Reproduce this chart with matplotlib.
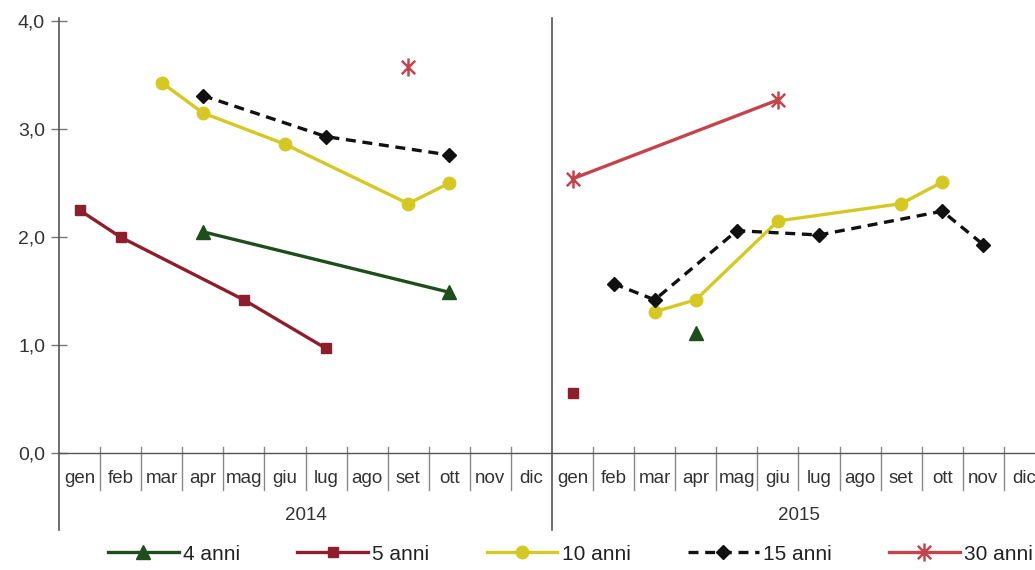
import numpy as np
import matplotlib.pyplot as plt
from matplotlib.path import Path

plt.rcParams['font.family'] = ['Liberation Sans', 'DejaVu Sans']

mesi = ["gen", "feb", "mar", "apr", "mag", "giu", "lug", "ago", "set", "ott", "nov", "dic"]
anni = ["2014", "2015"]
nan = np.nan

# valori mensili: prima i 12 mesi del 2014, poi i 12 del 2015
v4 = [nan, nan, nan, 2.05, nan, nan, nan, nan, nan, 1.49, nan, nan,
      nan, nan, nan, 1.11, nan, nan, nan, nan, nan, nan, nan, nan]
v5 = [2.25, 2.00, nan, nan, 1.42, nan, 0.97, nan, nan, nan, nan, nan,
      0.56, nan, nan, nan, nan, nan, nan, nan, nan, nan, nan, nan]
v10 = [nan, nan, 3.43, 3.15, nan, 2.86, nan, nan, 2.31, 2.50, nan, nan,
       nan, nan, 1.31, 1.42, nan, 2.15, nan, nan, 2.31, 2.51, nan, nan]
v15 = [nan, nan, nan, 3.31, nan, nan, 2.93, nan, nan, 2.76, nan, nan,
       nan, 1.57, 1.42, nan, 2.06, nan, 2.02, nan, nan, 2.24, 1.93, nan]
v30 = [nan, nan, nan, nan, nan, nan, nan, nan, 3.57, nan, nan, nan,
       2.54, nan, nan, nan, nan, 3.27, nan, nan, nan, nan, nan, nan]

# marcatore asterisco (X con linea verticale)
stella = Path([(-1, -1), (1, 1), (-1, 1), (1, -1), (0, -1.35), (0, 1.35)],
              [Path.MOVETO, Path.LINETO, Path.MOVETO, Path.LINETO, Path.MOVETO, Path.LINETO])

serie = [
    ("4 anni", v4, dict(color="#1f4d1c", marker="^", markersize=10, linestyle="-")),
    ("5 anni", v5, dict(color="#8e1e2c", marker="s", markersize=7.5, linestyle="-")),
    ("10 anni", v10, dict(color="#d6c824", marker="o", markersize=9, linestyle="-")),
    ("15 anni", v15, dict(color="#111111", marker="D", markersize=7.5, linestyle=(0, (3.0, 2.0)))),
    ("30 anni", v30, dict(color="#c4444c", marker=stella, markersize=13, markeredgewidth=1.8, linestyle="-")),
]

fig = plt.figure(figsize=(10.35, 5.70), dpi=100)
ax = fig.add_axes([59 / 1035, 116.7 / 570, 986 / 1035, 432.3 / 570])

x = np.arange(24)
for nome, vals, stile in serie:
    vals = np.array(vals)
    for a in range(2):
        xs = x[a * 12:(a + 1) * 12]
        ys = vals[a * 12:(a + 1) * 12]
        ok = ~np.isnan(ys)
        ax.plot(xs[ok], ys[ok], linewidth=2.4, label=nome if a == 0 else None, **stile)

ax.set_xlim(-0.5, 23.5)
ax.set_ylim(0, 4.0)
ax.set_yticks([0, 1, 2, 3, 4])
ax.set_yticklabels([f"{t:.1f}".replace(".", ",") for t in [0, 1, 2, 3, 4]])
ax.tick_params(axis="y", direction="inout", length=12, width=1, color="#777777",
               labelsize=14, labelcolor="#333333", pad=4)
ax.set_xticks([])

for s in ["top", "right", "left"]:
    ax.spines[s].set_visible(False)
ax.spines["bottom"].set_color("#555555")
ax.spines["bottom"].set_linewidth(1)

tr = ax.get_xaxis_transform()
# separatori degli anni
for xb in [-0.5, 11.5]:
    ax.plot([xb, xb], [1.007, -0.178], transform=tr, color="#555555", linewidth=1.2, clip_on=False)
# separatori dei mesi
for k in range(1, 24):
    if k == 12:
        continue
    ax.plot([k - 0.5, k - 0.5], [0.014, -0.086], transform=tr, color="#888888", linewidth=1, clip_on=False)

for i in range(24):
    ax.text(i, -0.058, mesi[i % 12], transform=tr, ha="center", va="center",
            fontsize=13.5, color="#333333")
for a, anno in enumerate(anni):
    ax.text(a * 12 + 5.5, -0.145, anno, transform=tr, ha="center", va="center",
            fontsize=13.5, color="#333333")

fig.legend(loc="center", bbox_to_anchor=(0.551, 0.028), ncol=5, frameon=False,
           fontsize=15, handlelength=3.4, columnspacing=2.75, handletextpad=0.2,
           labelcolor="#222222")

fig.savefig("out.png", dpi=100)
